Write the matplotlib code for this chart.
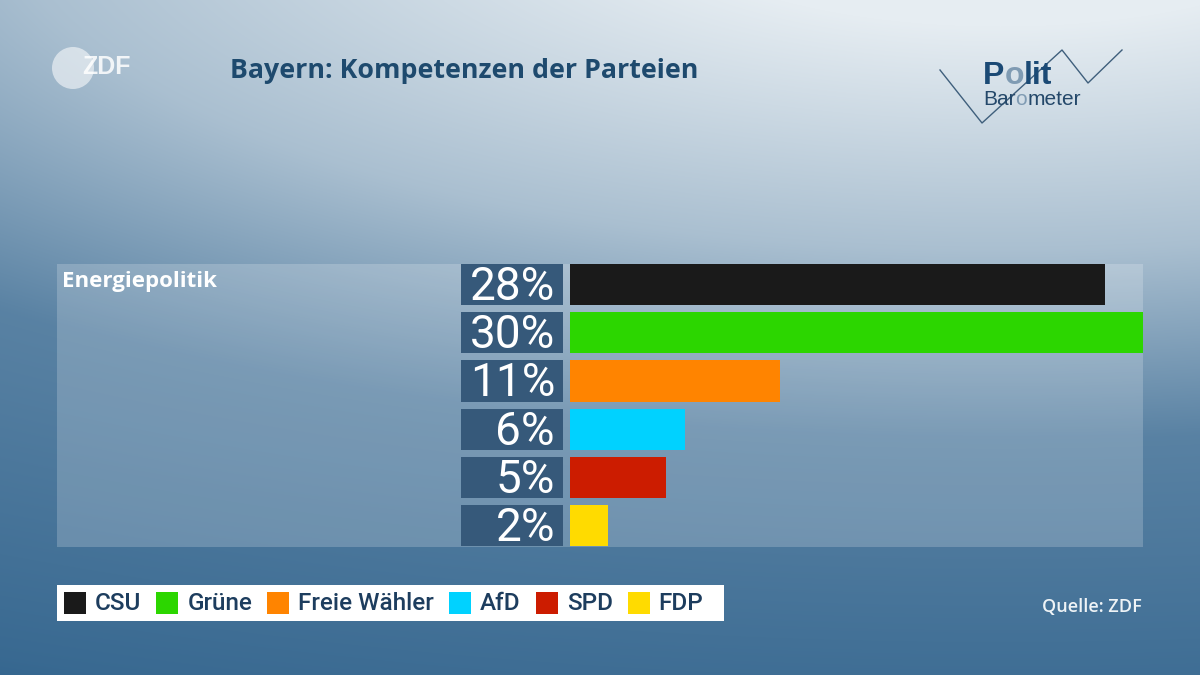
import numpy as np
import matplotlib.pyplot as plt
from matplotlib.patches import Rectangle, Circle

parties = ["CSU", "Grüne", "Freie Wähler", "AfD", "SPD", "FDP"]
values = [28, 30, 11, 6, 5, 2]
colors = ["#1a1a1a", "#2cd600", "#ff8400", "#00d2ff", "#cc1c00", "#ffdb00"]
topic = "Energiepolitik"
title = "Bayern: Kompetenzen der Parteien"
source = "Quelle: ZDF"

W, H = 1200, 675
fig = plt.figure(figsize=(12, 6.75), dpi=100)

# background gradient, pixel coordinates
bg = fig.add_axes([0, 0, 1, 1])
yy, xx = np.mgrid[0:H, 0:W]
d = np.sqrt(((xx - 1000) / 2000) ** 2 + ((yy + 100) / 700) ** 2)
s = np.interp(d, [0.18, 0.5, 0.77, 1.19, 1.29], [1.0, 0.68, 0.25, 0.08, 0.0])
dark = np.array([42, 94, 137]) / 255
light = np.array([230, 237, 242]) / 255
img = dark + s[..., None] * (light - dark)
bg.imshow(img, extent=[0, W, H, 0], aspect="auto", interpolation="bilinear")
bg.set_xlim(0, W)
bg.set_ylim(H, 0)
bg.axis("off")

# chart panel
px_per_unit = (1143 - 570) / 30
x0 = -(570 - 57) / px_per_unit
ax = fig.add_axes([57 / W, 1 - 547 / H, (1143 - 57) / W, (547 - 264) / H])
ax.set_facecolor((1, 1, 1, 0.2))
for sp in ax.spines.values():
    sp.set_visible(False)
ax.set_xticks([])
ax.set_yticks([])
ax.set_xlim(x0, 30)
h = 41 / 48
ax.set_ylim(len(values) - 1 + h / 2 + 0.02, -h / 2)

ypos = np.arange(len(values))
ax.barh(ypos, values, height=h, color=colors)
box_left = -(570 - 461) / px_per_unit
box_w = (563 - 461) / px_per_unit
ax.barh(ypos, box_w, left=box_left, height=h, color="#36597a")
for y, v in zip(ypos, values):
    ax.text(-(570 - 555) / px_per_unit, y + 0.05, f"{v}%", ha="right", va="center",
            color="white", fontsize=33, family="Roboto", fontweight="normal")

bg.text(62, 281, topic, ha="left", va="center", color="white",
        fontsize=16, family="Open Sans", fontweight="bold")

# title
bg.text(230, 71, title, ha="left", va="center", color="#1e4a6e",
        fontsize=19.3, family="Open Sans", fontweight="bold")

# ZDF logo
bg.add_patch(Circle((73, 68), 21, color="white", alpha=0.55, ec="none"))
bg.text(82, 67, "ZDF", ha="left", va="center", color="white", alpha=0.85,
        fontsize=18, family="Liberation Sans", fontweight="bold")

# Politbarometer logo
zx = [940, 982, 1062, 1088, 1122]
zy = [70, 123, 50, 83, 50]
bg.plot(zx, zy, color="#3f5f7c", lw=1)
renderer = fig.canvas.get_renderer()
inv = bg.transData.inverted()
x = 983
for part, c in [("P", "#1b4a75"), ("o", "#7f9bb3"), ("lit", "#1b4a75")]:
    t = bg.text(x, 84, part, ha="left", va="baseline", color=c,
                fontsize=23, family="Liberation Sans", fontweight="bold")
    x = inv.transform(t.get_window_extent(renderer).p1)[0]
x = 983
for part, c in [("Bar", "#24486a"), ("o", "#7f9bb3"), ("meter", "#24486a")]:
    t = bg.text(x, 105, part, ha="left", va="baseline", color=c,
                fontsize=15, family="Liberation Sans")
    x = inv.transform(t.get_window_extent(renderer).p1)[0]

# legend
bg.add_patch(Rectangle((57, 585), 724 - 57, 621 - 585, color="white", ec="none"))
x = 64
for name, c in zip(parties, colors):
    bg.add_patch(Rectangle((x, 592), 22, 22, color=c, ec="none"))
    t = bg.text(x + 31, 604, name, ha="left", va="center", color="#1d3d5e",
                fontsize=17.5, family="Roboto", fontweight="medium")
    x = inv.transform(t.get_window_extent(renderer).p1)[0] + 15

bg.text(1142, 607, source, ha="right", va="center", color="#eef3f6",
        fontsize=13, family="Open Sans", fontweight="semibold")

fig.savefig("out.png", dpi=100)
